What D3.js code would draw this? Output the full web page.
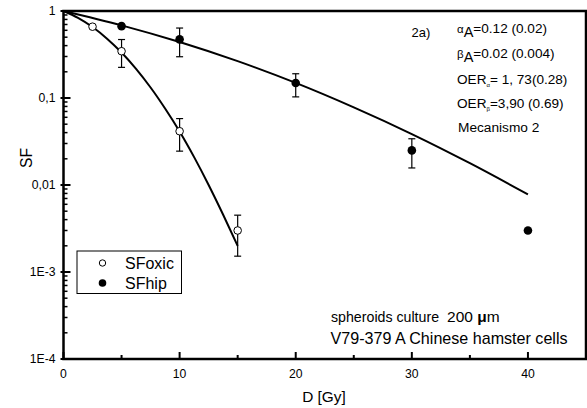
<!DOCTYPE html>
<html><head><meta charset="utf-8">
<script src="https://cdn.jsdelivr.net/npm/d3@7"></script>
<style>body{margin:0;background:#fff}svg{display:block;font-family:"Liberation Sans",Arial,sans-serif}</style>
</head><body>
<svg id="c" width="587" height="408"></svg>
<script>
// Data
const oxicD   = [2.5, 5, 10, 15];
const oxicSF  = [0.66, 0.345, 0.0415, 0.0030];
const oxicLo  = [null, 0.225, 0.0245, 0.00152];
const oxicHi  = [null, 0.47, 0.058, 0.0045];
const hipD    = [5, 10, 20, 30, 40];
const hipSF   = [0.67, 0.472, 0.149, 0.025, 0.0030];
const hipLo   = [null, 0.298, 0.103, 0.0157, null];
const hipHi   = [null, 0.637, 0.19, 0.034, null];
// fitted curves
const fitOxD  = [0, 1.25, 2.5, 3.75, 5, 6.25, 7.5, 8.75, 10, 11.25, 12.5, 13.75, 15];
const fitOxSF = [1, 0.834, 0.654, 0.481, 0.333, 0.216, 0.132, 0.0757, 0.0412, 0.0209, 0.0100, 0.00455, 0.00200];
const fitHpD  = [0, 5, 10, 15, 20, 25, 30, 35, 40];
const fitHpSF = [1, 0.684, 0.44, 0.265, 0.149, 0.078, 0.0385, 0.0178, 0.0078];
const xTicks = [0, 10, 20, 30, 40];
const yTicks = [1, 0.1, 0.01, 0.001, 0.0001];
const yTickLabels = ["1", "0,1", "0,01", "1E-3", "1E-4"];

const svg = d3.select("#c");
const L = 63.5, R = 586, T = 11, B = 359;
const x = d3.scaleLinear().domain([0, 45]).range([L, R]);
const y = d3.scaleLog().domain([1e-4, 1]).range([B, T]);

// minor y ticks
const minorY = [];
for (let e = -4; e < 0; e++) for (let k = 2; k <= 9; k++) minorY.push(k * Math.pow(10, e));
svg.append("g").selectAll("line").data(minorY).join("line")
  .attr("x1", L).attr("x2", L + 4).attr("y1", d => y(d)).attr("y2", d => y(d))
  .attr("stroke", "#000").attr("stroke-width", 1.5);
svg.append("g").selectAll("line").data(yTicks).join("line")
  .attr("x1", L - 3).attr("x2", L + 7).attr("y1", d => y(d)).attr("y2", d => y(d))
  .attr("stroke", "#000").attr("stroke-width", 2);
svg.append("g").selectAll("text").data(yTicks).join("text")
  .attr("x", L - 8).attr("y", d => y(d) + 4.3).attr("text-anchor", "end")
  .attr("font-size", 12.2).text((d, i) => yTickLabels[i]);

// x ticks
const minorX = [5, 15, 25, 35];
svg.append("g").selectAll("line").data(minorX).join("line")
  .attr("x1", d => x(d)).attr("x2", d => x(d)).attr("y1", B).attr("y2", B - 4)
  .attr("stroke", "#000").attr("stroke-width", 2);
svg.append("g").selectAll("line").data(xTicks).join("line")
  .attr("x1", d => x(d)).attr("x2", d => x(d)).attr("y1", B).attr("y2", B - 7)
  .attr("stroke", "#000").attr("stroke-width", 2);
svg.append("g").selectAll("text").data(xTicks).join("text")
  .attr("x", d => x(d)).attr("y", B + 19).attr("text-anchor", "middle")
  .attr("font-size", 12.2).text(d => d);

// frame
svg.append("rect").attr("x", L).attr("y", T).attr("width", R - L).attr("height", B - T)
  .attr("fill", "none").attr("stroke", "#000").attr("stroke-width", 2.5);

// axis titles
svg.append("text").attr("x", 324).attr("y", 401.5).attr("text-anchor", "middle")
  .attr("font-size", 15.4).text("D [Gy]");
svg.append("text").attr("transform", "translate(31.5,158) rotate(-90)")
  .attr("text-anchor", "middle").attr("font-size", 15.6).text("SF");

// curves
const line = d3.line().x(d => x(d[0])).y(d => y(d[1])).curve(d3.curveMonotoneX);
svg.append("path").datum(fitOxD.map((d, i) => [d, fitOxSF[i]])).attr("d", line)
  .attr("fill", "none").attr("stroke", "#000").attr("stroke-width", 2);
svg.append("path").datum(fitHpD.map((d, i) => [d, fitHpSF[i]])).attr("d", line)
  .attr("fill", "none").attr("stroke", "#000").attr("stroke-width", 2);

// error bars
function errs(D, lo, hi) {
  const g = svg.append("g").attr("stroke", "#000").attr("stroke-width", 1.2);
  D.forEach((d, i) => {
    if (lo[i] == null) return;
    const cx = x(d);
    g.append("line").attr("x1", cx).attr("x2", cx).attr("y1", y(lo[i])).attr("y2", y(hi[i]));
    g.append("line").attr("x1", cx - 3.5).attr("x2", cx + 3.5).attr("y1", y(lo[i])).attr("y2", y(lo[i]));
    g.append("line").attr("x1", cx - 3.5).attr("x2", cx + 3.5).attr("y1", y(hi[i])).attr("y2", y(hi[i]));
  });
}
errs(oxicD, oxicLo, oxicHi);
errs(hipD, hipLo, hipHi);

// points
svg.append("g").selectAll("circle").data(oxicD).join("circle")
  .attr("cx", d => x(d)).attr("cy", (d, i) => y(oxicSF[i])).attr("r", 3.8)
  .attr("fill", "#fff").attr("stroke", "#000").attr("stroke-width", 1);
svg.append("g").selectAll("circle").data(hipD).join("circle")
  .attr("cx", d => x(d)).attr("cy", (d, i) => y(hipSF[i])).attr("r", 4.3)
  .attr("fill", "#000");

// legend
svg.append("rect").attr("x", 77).attr("y", 251).attr("width", 104.5).attr("height", 42.5)
  .attr("fill", "#fff").attr("stroke", "#000").attr("stroke-width", 1);
svg.append("circle").attr("cx", 102.5).attr("cy", 263).attr("r", 3.2)
  .attr("fill", "#fff").attr("stroke", "#000").attr("stroke-width", 1);
svg.append("circle").attr("cx", 102.5).attr("cy", 283).attr("r", 3.8).attr("fill", "#000");
svg.append("text").attr("x", 125).attr("y", 269).attr("font-size", 16).text("SFoxic");
svg.append("text").attr("x", 125).attr("y", 289).attr("font-size", 16).text("SFhip");

// annotations
svg.append("text").attr("x", 411.5).attr("y", 36.5).attr("font-size", 13).text("2a)");
const ax = 457, fs = 13.6;
let t = svg.append("text").attr("x", ax).attr("y", 32.5).attr("font-size", fs);
t.append("tspan").attr("font-size", 11.5).text("α");
t.append("tspan").attr("dy", 4).attr("font-size", 14.5).text("A");
t.append("tspan").attr("dy", -4).text("=0.12 (0.02)");
t = svg.append("text").attr("x", ax).attr("y", 57.5).attr("font-size", fs);
t.append("tspan").attr("font-size", 11.5).text("β");
t.append("tspan").attr("dy", 4).attr("font-size", 14.5).text("A");
t.append("tspan").attr("dy", -4).text("=0.02 (0.004)");
t = svg.append("text").attr("x", ax).attr("y", 83.5).attr("font-size", fs);
t.append("tspan").text("OER");
t.append("tspan").attr("dy", 3).attr("font-size", 6).text("α");
t.append("tspan").attr("dy", -3).text("= 1, 73(0.28)");
t = svg.append("text").attr("x", ax).attr("y", 107.5).attr("font-size", fs);
t.append("tspan").text("OER");
t.append("tspan").attr("dy", 3).attr("font-size", 6).text("β");
t.append("tspan").attr("dy", -3).text("=3,90 (0.69)");
svg.append("text").attr("x", ax + 1).attr("y", 131.5).attr("font-size", 13.7).text("Mecanismo 2");

t = svg.append("text").attr("x", 331).attr("y", 322).attr("font-size", 14.2);
t.append("tspan").text("spheroids culture");
t.append("tspan").attr("font-size", 15.5).attr("dx", 8).text("200 ");
t.append("tspan").attr("font-size", 15.5).attr("font-weight", "bold").text("μ");
t.append("tspan").attr("font-size", 15.5).text("m");
svg.append("text").attr("x", 330.5).attr("y", 343.5).attr("font-size", 16.1)
  .text("V79-379 A Chinese hamster cells");
</script>
</body></html>
